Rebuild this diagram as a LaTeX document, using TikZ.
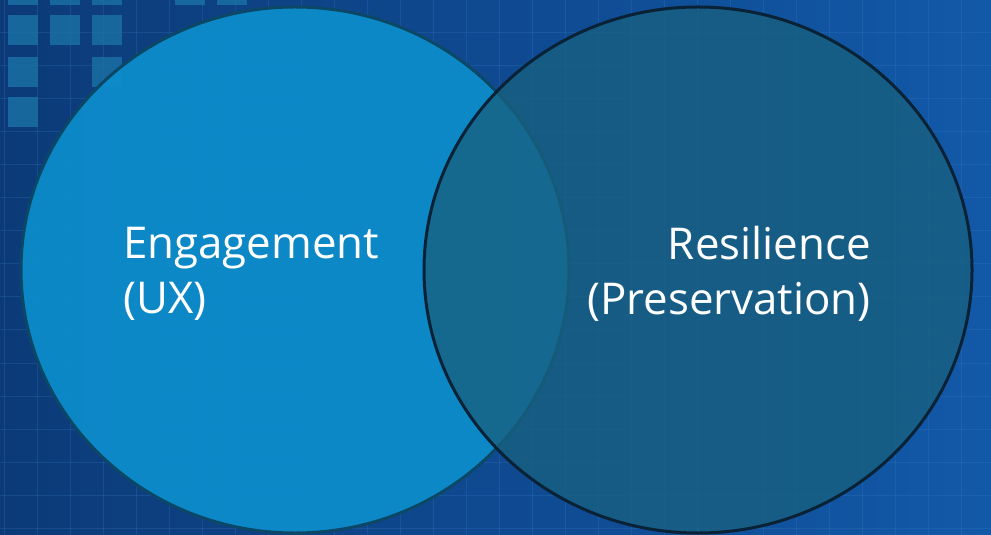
\documentclass[tikz,border=0pt]{standalone}
\usepackage{fontspec}
\setmainfont{Open Sans}
\usetikzlibrary{shapes.geometric, positioning}
\definecolor{bgleft}{HTML}{0C3A78}
\definecolor{bgright}{HTML}{1259A8}
\definecolor{gridblue}{HTML}{3A7CC4}
\definecolor{tileblue}{HTML}{1A72A6}
\definecolor{engfill}{HTML}{0D8CCB}
\definecolor{engline}{HTML}{0B4867}
\definecolor{resfill}{HTML}{18607F}
\definecolor{resline}{HTML}{0A2236}

\begin{document}
\begin{tikzpicture}[
          x=1bp, y=-1bp,
          venn/.style={ellipse, minimum width=548bp, minimum height=526bp, inner sep=0pt, line width=3bp},
          vtext/.style={text=white, inner sep=0pt, font=\fontsize{44}{55}\selectfont},
          tile/.style={fill=tileblue, fill opacity=0.8},
          gridline/.style={gridblue, line width=1bp, opacity=0.25}
        ]
          \useasboundingbox (0,0) rectangle (991,535);
          % background
          \shade[left color=bgleft, right color=bgright] (0,0) rectangle (991,535);
          \foreach \x in {4,37,...,991} \draw[gridline] (\x,0) -- (\x,535);
          \foreach \y in {0,33,...,535} \draw[gridline] (0,\y) -- (991,\y);
          \foreach \x in {8,50,92,175,217} \fill[tile] (\x,-25) rectangle ++(30,30);
          \foreach \x in {8,50,92} \fill[tile] (\x,15) rectangle ++(30,30);
          \foreach \x in {8,92} \fill[tile] (\x,57) rectangle ++(30,30);
          \fill[tile] (8,97) rectangle ++(30,30);

          % circles
          \node[venn, fill=engfill, fill opacity=0.95, draw=engline] (engage) at (295,270) {};
          \node[venn, fill=resfill, fill opacity=0.78, draw=resline, draw opacity=1] (resil) at (698,270) {};

          \node[vtext, align=left, anchor=west] (engtext) at (123,274) {Engagement\\(UX)};
          \node[vtext, align=right, anchor=east] (restext) at (871,274) {Resilience\\(Preservation)};
        \end{tikzpicture}
\end{document}
